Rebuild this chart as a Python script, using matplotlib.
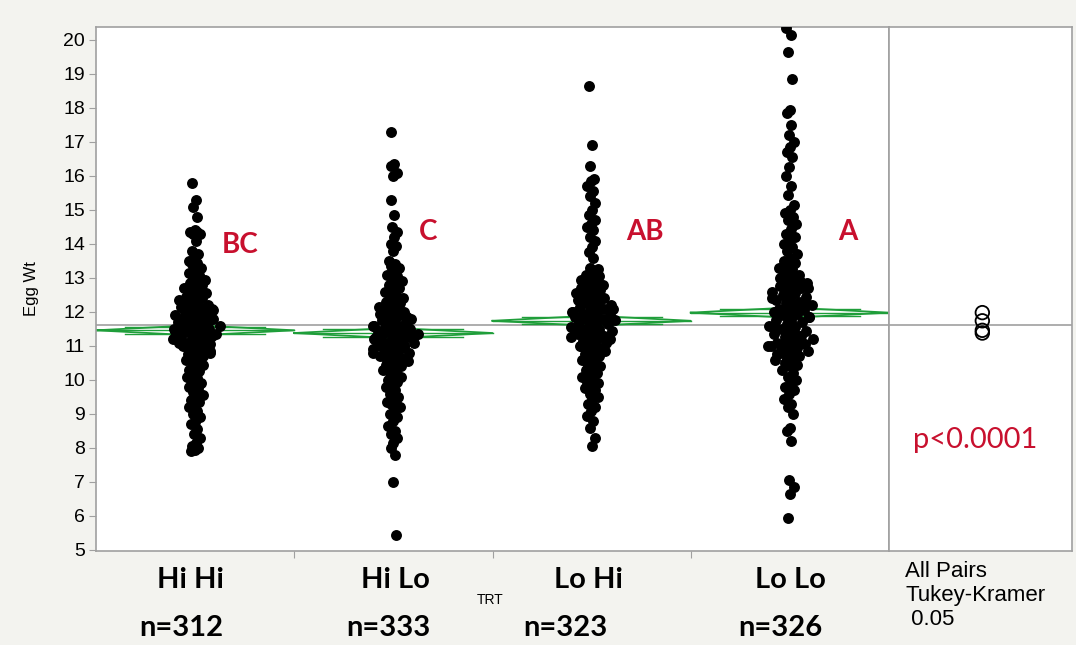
import numpy as np
import matplotlib
matplotlib.use("Agg")
import matplotlib.pyplot as plt

# Egg weight by treatment
groups = ["Hi Hi", "Hi Lo", "Lo Hi", "Lo Lo"]
counts = ["n=312", "n=333", "n=323", "n=326"]
letters = ["BC", "C", "AB", "A"]
means = [11.46, 11.38, 11.74, 11.98]
ci_half = [0.15, 0.15, 0.15, 0.15]
grand_mean = 11.62

hi_hi = [
    15.8, 15.3, 15.1, 14.8, 14.4, 14.35, 14.35, 14.3, 14.3, 14.1,
    13.8, 13.7, 13.6, 13.5, 13.45, 13.4, 13.3, 13.2, 13.15, 13.1,
    13.0, 12.95, 12.9, 12.85, 12.8, 12.8, 12.7, 12.65, 12.6, 12.55,
    12.5, 12.45, 12.4, 12.4, 12.35, 12.3, 12.25, 12.2, 12.2, 12.15,
    12.1, 12.1, 12.05, 12.0, 12.0, 11.95, 11.9, 11.9, 11.85, 11.8,
    11.8, 11.75, 11.7, 11.7, 11.65, 11.6, 11.6, 11.55, 11.5, 11.5,
    11.45, 11.4, 11.4, 11.35, 11.3, 11.3, 11.25, 11.2, 11.2, 11.15,
    11.1, 11.05, 11.0, 11.0, 10.95, 10.9, 10.85, 10.8, 10.75, 10.7,
    10.65, 10.6, 10.55, 10.5, 10.45, 10.4, 10.3, 10.25, 10.2, 10.1,
    10.05, 10.0, 9.9, 9.85, 9.8, 9.75, 9.65, 9.55, 9.5, 9.4,
    9.35, 9.3, 9.2, 9.1, 9.0, 8.9, 8.75, 8.7, 8.55, 8.4,
    8.3, 8.15, 8.05, 8.0, 7.95, 7.9,
    12.6, 12.3, 12.1, 11.9, 11.8, 11.7, 11.6, 11.5, 11.45, 11.4,
    11.3, 11.2, 11.1, 11.0, 10.9, 10.8, 11.95, 11.65, 11.35, 11.05,
]
hi_lo = [
    17.3, 16.35, 16.3, 16.1, 16.0, 15.3, 14.85, 14.5, 14.35, 14.2,
    14.0, 13.95, 13.8, 13.5, 13.4, 13.35, 13.3, 13.2, 13.1, 13.05,
    13.0, 12.9, 12.85, 12.8, 12.7, 12.65, 12.6, 12.5, 12.45, 12.4,
    12.35, 12.3, 12.25, 12.2, 12.15, 12.1, 12.05, 12.0, 12.0, 11.95,
    11.9, 11.85, 11.8, 11.8, 11.75, 11.7, 11.65, 11.6, 11.6, 11.55,
    11.5, 11.5, 11.45, 11.4, 11.4, 11.35, 11.3, 11.3, 11.25, 11.2,
    11.2, 11.15, 11.1, 11.1, 11.05, 11.0, 11.0, 10.95, 10.9, 10.85,
    10.8, 10.8, 10.75, 10.7, 10.65, 10.6, 10.55, 10.5, 10.45, 10.4,
    10.35, 10.3, 10.25, 10.2, 10.1, 10.05, 10.0, 9.95, 9.9, 9.8,
    9.7, 9.6, 9.5, 9.4, 9.35, 9.3, 9.3, 9.2, 9.1, 9.0,
    8.9, 8.8, 8.65, 8.5, 8.4, 8.3, 8.15, 8.0, 7.8, 7.0, 5.45,
    12.4, 12.1, 11.9, 11.75, 11.6, 11.5, 11.4, 11.3, 11.2, 11.1,
    11.0, 10.9, 10.8, 10.7, 10.6, 11.85, 11.55, 11.25, 10.95, 10.5,
]
lo_hi = [
    18.65, 16.9, 16.3, 15.9, 15.85, 15.7, 15.55, 15.4, 15.2, 15.0,
    14.85, 14.7, 14.6, 14.5, 14.4, 14.2, 14.1, 13.9, 13.75, 13.6,
    13.3, 13.25, 13.2, 13.1, 13.05, 13.0, 12.95, 12.9, 12.85, 12.8,
    12.75, 12.7, 12.65, 12.6, 12.55, 12.5, 12.45, 12.4, 12.4, 12.35,
    12.3, 12.25, 12.2, 12.2, 12.15, 12.1, 12.05, 12.0, 12.0, 11.95,
    11.9, 11.9, 11.85, 11.8, 11.8, 11.75, 11.7, 11.7, 11.65, 11.6,
    11.55, 11.5, 11.5, 11.45, 11.4, 11.35, 11.3, 11.3, 11.25, 11.2,
    11.15, 11.1, 11.05, 11.0, 10.95, 10.9, 10.85, 10.8, 10.75, 10.7,
    10.65, 10.6, 10.5, 10.45, 10.4, 10.35, 10.3, 10.2, 10.15, 10.1,
    10.0, 9.95, 9.9, 9.8, 9.75, 9.7, 9.6, 9.5, 9.4, 9.3,
    9.2, 9.1, 8.95, 8.8, 8.6, 8.3, 8.05,
    12.9, 12.6, 12.3, 12.1, 11.9, 11.8, 11.7, 11.6, 11.5, 11.4,
    11.3, 11.2, 11.1, 11.0, 10.9, 12.45, 12.0, 11.75, 11.45, 11.15,
]
lo_lo = [
    20.35, 20.15, 19.65, 18.85, 17.95, 17.85, 17.5, 17.2, 17.0, 16.85,
    16.7, 16.55, 16.25, 16.0, 15.7, 15.45, 15.15, 15.0, 14.9, 14.8,
    14.7, 14.6, 14.45, 14.3, 14.2, 14.1, 14.0, 13.9, 13.8, 13.7,
    13.6, 13.5, 13.45, 13.4, 13.3, 13.25, 13.2, 13.1, 13.05, 13.0,
    12.95, 12.9, 12.85, 12.8, 12.75, 12.7, 12.65, 12.6, 12.55, 12.5,
    12.45, 12.4, 12.35, 12.3, 12.25, 12.2, 12.15, 12.1, 12.05, 12.0,
    12.0, 11.95, 11.9, 11.85, 11.8, 11.75, 11.7, 11.65, 11.6, 11.55,
    11.5, 11.45, 11.4, 11.35, 11.3, 11.25, 11.2, 11.15, 11.1, 11.05,
    11.0, 11.0, 10.95, 10.9, 10.85, 10.8, 10.75, 10.7, 10.65, 10.6,
    10.55, 10.5, 10.45, 10.4, 10.3, 10.2, 10.1, 10.0, 9.9, 9.8,
    9.7, 9.6, 9.45, 9.3, 9.2, 9.0, 8.6, 8.5, 8.2, 7.05,
    6.85, 6.65, 5.95,
    12.9, 12.6, 12.4, 12.2, 12.0, 11.85, 11.7, 11.5, 11.3, 11.1,
    11.0, 10.9, 10.8, 12.3, 11.95, 11.6, 11.2, 10.95, 12.7, 11.4,
]
egg_wt = [hi_hi, hi_lo, lo_hi, lo_lo]

RED = "#c8102e"
GREEN = "#1f9e3a"
GRAY = "#a0a0a0"
BOLD = ["Lato", "DejaVu Sans"]
SANS = ["Liberation Sans", "DejaVu Sans"]


def jitter(vals):
    # spread grows with local density, most points stay near the centre
    v = np.asarray(vals)
    d = np.array([np.sum(np.abs(v - y) < 0.3) for y in v])
    w = 0.012 + 0.115 * (d / d.max()) ** 1.2
    u = 2 * ((np.arange(len(v)) * 0.6180339887) % 1.0) - 1
    return w * np.sign(u) * np.abs(u) ** 1.2


fig = plt.figure(figsize=(10.76, 6.45), dpi=100, facecolor="#f3f3ef")
ax = fig.add_axes([96 / 1076, 94 / 645, 793 / 1076, 524 / 645])
ax2 = fig.add_axes([889 / 1076, 94 / 645, 183 / 1076, 524 / 645], sharey=ax)

for i, vals in enumerate(egg_wt):
    ax.scatter(i + jitter(vals), vals, s=62, color="black", zorder=3, linewidths=0)
    m, c = means[i], ci_half[i]
    # mean diamond
    ax.plot([i - 0.5, i, i + 0.5, i, i - 0.5], [m, m + c, m, m - c, m],
            color=GREEN, lw=1.3, zorder=2)
    ax.plot([i - 0.5, i + 0.5], [m, m], color=GREEN, lw=1.0, zorder=2)
    o = c / np.sqrt(2)
    for yy in (m - o, m + o):
        ax.plot([i - 0.5 + 0.5 * (1 - 0.707), i + 0.5 - 0.5 * (1 - 0.707)],
                [yy, yy], color=GREEN, lw=1.0, zorder=2)

ax.axhline(grand_mean, color=GRAY, lw=1.2, zorder=1)
ax2.axhline(grand_mean, color=GRAY, lw=1.2, zorder=1)

ax.set_xlim(-0.5, 3.5)
ax.set_ylim(4.97, 20.38)
ax.set_yticks(range(5, 21))
ax.set_xticks([0.5, 1.5, 2.5])
ax.set_xticklabels([])
ax.tick_params(axis="y", length=5, color=GRAY, labelsize=14, pad=3)
ax.tick_params(axis="x", length=5, color=GRAY)
for lab in ax.get_yticklabels():
    lab.set_family(SANS)
for a in (ax, ax2):
    for sp in a.spines.values():
        sp.set_color(GRAY)
        sp.set_linewidth(1.2)

letter_x = [0.227, 1.177, 2.27, 3.29]
letter_y = [13.97, 14.35, 14.35, 14.35]
for i, t in enumerate(letters):
    ax.text(letter_x[i], letter_y[i], t, color=RED, fontsize=20, fontweight="bold",
            family=BOLD, ha="center", va="center")

# comparison circles
ax2.set_xlim(0, 1)
ax2.scatter([0.51] * 4, means, s=95, facecolors="none", edgecolors="black",
            linewidths=1.3, zorder=3)
ax2.text(0.47, 8.24, "p<0.0001", color=RED, fontsize=21,
         family=BOLD, ha="center", va="center")
ax2.set_xticks([])
ax2.tick_params(axis="y", left=False, labelleft=False)

ax.set_ylabel("Egg Wt", fontsize=12, family=SANS, labelpad=17)

xl = [190, 395, 588, 790]
xn = [181, 388, 565, 780]
for i in range(4):
    fig.text(xl[i] / 1076, 1 - 580 / 645, groups[i], fontsize=21, fontweight="bold",
             family=BOLD, ha="center", va="center")
    fig.text(xn[i] / 1076, 1 - 628 / 645, counts[i], fontsize=21, fontweight="bold",
             family=BOLD, ha="center", va="center")
fig.text(490 / 1076, 1 - 600 / 645, "TRT", fontsize=10, family=SANS,
         ha="center", va="center")
fig.text(905 / 1076, 1 - 561 / 645, "All Pairs\nTukey-Kramer\n 0.05", fontsize=16,
         family=SANS, ha="left", va="top", linespacing=1.2)

fig.savefig("out.png", dpi=100, facecolor=fig.get_facecolor())
